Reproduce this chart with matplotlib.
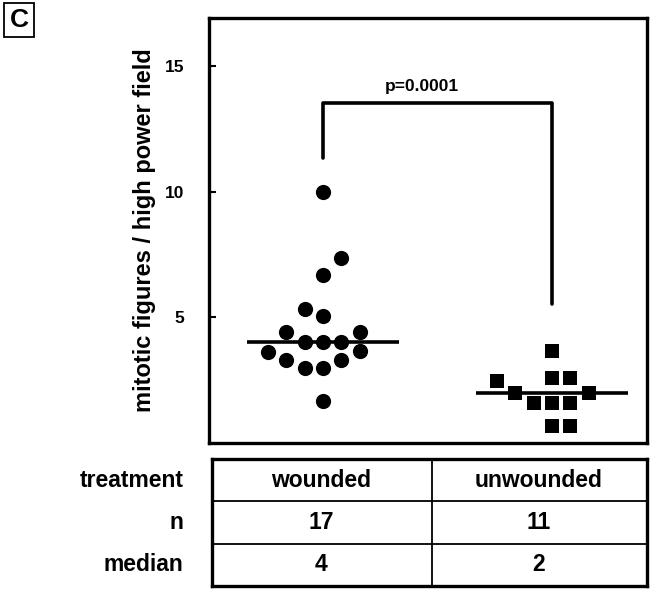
import numpy as np
import matplotlib.pyplot as plt

plt.rcParams['font.family'] = ['Liberation Sans', 'DejaVu Sans']
plt.rcParams['font.weight'] = 'bold'

# mitotic figures per high power field
wounded = [10.0, 7.34, 6.67, 5.32, 5.04, 4.4, 4.4, 4.0, 4.0, 4.0,
           3.65, 3.6, 3.3, 3.3, 3.0, 3.0, 1.67]
wounded_slot = [0, 1, 0, -1, 0, -2, 2, -1, 0, 1, 2, -3, -2, 1, -1, 0, 0]
unwounded = [3.65, 2.46, 2.6, 2.6, 2.0, 2.0, 1.6, 1.6, 1.6, 0.67, 0.67]
unwounded_slot = [0, -3, 0, 1, -2, 2, -1, 0, 1, 0, 1]
medians = [4, 2]
groups = ["wounded", "unwounded"]
counts = [17, 11]
p_text = "p=0.0001"
yticks = [5, 10, 15]

fig = plt.figure(figsize=(6.52, 5.90), dpi=100)
W, H = 652, 590

def px_axes(l, t, r, b):
    return fig.add_axes([l / W, 1 - b / H, (r - l) / W, (b - t) / H])

ax = px_axes(209, 18, 647, 443)
step = 0.08
ax.scatter(1 + step * np.array(wounded_slot), wounded, s=120, marker='o',
           color='black', zorder=3, linewidths=0)
ax.scatter(2 + step * np.array(unwounded_slot), unwounded, s=100, marker='s',
           color='black', zorder=3, linewidths=0)
for i, m in enumerate(medians):
    ax.plot([i + 1 - 0.33, i + 1 + 0.33], [m, m], color='black', lw=2.6,
            zorder=2, solid_capstyle='butt')

# significance bracket
ax.plot([1, 1, 2, 2], [11.35, 13.53, 13.53, 5.52], color='black', lw=2.6,
        solid_joinstyle='round', solid_capstyle='round')
ax.text(1.43, 14.17, p_text, ha='center', va='center', fontsize=12.5,
        fontweight='bold')

ax.set_xlim(0.502, 2.415)
ax.set_ylim(0, 16.9)
ax.set_xticks([])
ax.set_yticks(yticks)
ax.tick_params(axis='y', direction='in', length=5, width=1.5, pad=18,
               labelsize=12.5)
for s in ax.spines.values():
    s.set_linewidth(2.4)
ax.set_ylabel("mitotic figures / high power field", fontsize=17,
              fontweight='bold', labelpad=6)

# table below the plot
tb = px_axes(212, 459, 647, 586)
tb.set_xlim(0, 2)
tb.set_ylim(0, 3)
tb.set_xticks([])
tb.set_yticks([])
for s in tb.spines.values():
    s.set_linewidth(2.4)
tb.axvline(1.012, color='black', lw=1.3)
tb.axhline(1, color='black', lw=1.3)
tb.axhline(2, color='black', lw=1.3)
row_names = ["treatment", "n", "median"]
rows = [groups, [str(c) for c in counts], [str(m) for m in medians]]
for r, (name, vals) in enumerate(zip(row_names, rows)):
    yc = 2.5 - r
    tb.text(-0.13, yc, name, ha='right', va='center', fontsize=16.5,
            fontweight='bold', clip_on=False)
    for c, v in enumerate(vals):
        tb.text(0.5 + c, yc, v, ha='center', va='center', fontsize=16.5,
                fontweight='bold')

# panel letter
fig.text(19 / W, 1 - 20 / H, "C", ha='center', va='center', fontsize=19,
         fontweight='bold',
         bbox=dict(boxstyle='square,pad=0.2', fc='white', ec='black', lw=1.3))

fig.savefig("out.png", dpi=100)
